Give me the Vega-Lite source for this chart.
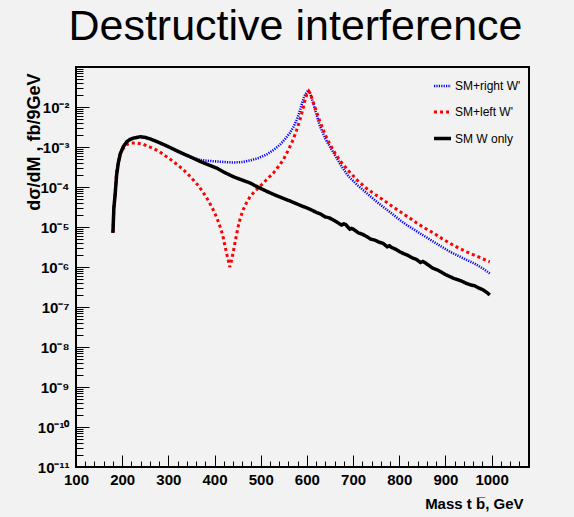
{
  "$schema": "https://vega.github.io/schema/vega-lite/v6.json",
  "width": 453,
  "height": 400,
  "autosize": "none",
  "padding": {"left": 76, "top": 67, "right": 45, "bottom": 50},
  "background": "#f2f2f2",
  "title": {"text": "Destructive interference", "font": "Liberation Sans", "fontSize": 43, "fontWeight": "normal", "color": "black", "anchor": "middle", "dx": -7, "baseline": "bottom", "offset": -25},
  "config": {
    "view": {"stroke": "black", "strokeWidth": 2},
    "axis": {"grid": false, "domain": false, "tickColor": "black", "labelColor": "black", "titleColor": "black", "labelFlush": false, "labelOverlap": false}
  },
  "data": {"values": [
    {"m":180,"s":"SM+right W'","v":7.2e-6},{"m":182,"s":"SM+right W'","v":3e-5},{"m":184.4,"s":"SM+right W'","v":5.8e-5},{"m":188,"s":"SM+right W'","v":2.0e-4},{"m":191.6,"s":"SM+right W'","v":4e-4},{"m":196,"s":"SM+right W'","v":6.8e-4},{"m":202.4,"s":"SM+right W'","v":1.02e-3},{"m":210,"s":"SM+right W'","v":1.35e-3},{"m":217,"s":"SM+right W'","v":1.55e-3},{"m":224,"s":"SM+right W'","v":1.68e-3},{"m":238.6,"s":"SM+right W'","v":1.8e-3},{"m":260,"s":"SM+right W'","v":1.62e-3},{"m":278,"s":"SM+right W'","v":1.35e-3},{"m":296,"s":"SM+right W'","v":1.1e-3},{"m":314,"s":"SM+right W'","v":8.3e-4},{"m":332,"s":"SM+right W'","v":6.6e-4},{"m":350,"s":"SM+right W'","v":5.5e-4},{"m":368,"s":"SM+right W'","v":4.8e-4},{"m":386,"s":"SM+right W'","v":4.5e-4},{"m":405,"s":"SM+right W'","v":4.35e-4},{"m":423,"s":"SM+right W'","v":4.2e-4},{"m":441,"s":"SM+right W'","v":4.1e-4},{"m":459,"s":"SM+right W'","v":4.2e-4},{"m":477,"s":"SM+right W'","v":4.6e-4},{"m":495,"s":"SM+right W'","v":5.3e-4},{"m":513,"s":"SM+right W'","v":6.5e-4},{"m":528,"s":"SM+right W'","v":8.5e-4},{"m":542,"s":"SM+right W'","v":1.15e-3},{"m":553,"s":"SM+right W'","v":1.6e-3},{"m":563,"s":"SM+right W'","v":2.24e-3},{"m":571,"s":"SM+right W'","v":3.2e-3},{"m":578,"s":"SM+right W'","v":4.8e-3},{"m":584,"s":"SM+right W'","v":7.5e-3},{"m":589,"s":"SM+right W'","v":1.2e-2},{"m":594,"s":"SM+right W'","v":1.8e-2},{"m":599,"s":"SM+right W'","v":2.3e-2},{"m":603,"s":"SM+right W'","v":2.6e-2},{"m":606,"s":"SM+right W'","v":2.4e-2},{"m":610,"s":"SM+right W'","v":1.75e-2},{"m":614,"s":"SM+right W'","v":1.2e-2},{"m":620,"s":"SM+right W'","v":7e-3},{"m":628,"s":"SM+right W'","v":3.4e-3},{"m":640,"s":"SM+right W'","v":1.6e-3},{"m":657,"s":"SM+right W'","v":7.4e-4},{"m":673,"s":"SM+right W'","v":3.6e-4},{"m":690,"s":"SM+right W'","v":1.85e-4},{"m":710,"s":"SM+right W'","v":1.1e-4},{"m":729,"s":"SM+right W'","v":7.1e-5},{"m":747,"s":"SM+right W'","v":4.7e-5},{"m":765,"s":"SM+right W'","v":3.2e-5},{"m":783,"s":"SM+right W'","v":2.2e-5},{"m":801,"s":"SM+right W'","v":1.5e-5},{"m":820,"s":"SM+right W'","v":1.05e-5},{"m":838,"s":"SM+right W'","v":7.8e-6},{"m":856,"s":"SM+right W'","v":5.8e-6},{"m":874,"s":"SM+right W'","v":4.3e-6},{"m":892,"s":"SM+right W'","v":3.2e-6},{"m":910,"s":"SM+right W'","v":2.4e-6},{"m":928,"s":"SM+right W'","v":1.9e-6},{"m":946,"s":"SM+right W'","v":1.5e-6},{"m":964,"s":"SM+right W'","v":1.2e-6},{"m":982,"s":"SM+right W'","v":9e-7},{"m":996,"s":"SM+right W'","v":6.9e-7},
    {"m":180,"s":"SM+left W'","v":7.2e-6},{"m":182,"s":"SM+left W'","v":3e-5},{"m":184.4,"s":"SM+left W'","v":6e-5},{"m":188,"s":"SM+left W'","v":2.5e-4},{"m":191.6,"s":"SM+left W'","v":4.2e-4},{"m":195,"s":"SM+left W'","v":6.5e-4},{"m":202,"s":"SM+left W'","v":9e-4},{"m":209.7,"s":"SM+left W'","v":1.15e-3},{"m":220,"s":"SM+left W'","v":1.25e-3},{"m":231,"s":"SM+left W'","v":1.26e-3},{"m":245,"s":"SM+left W'","v":1.18e-3},{"m":260,"s":"SM+left W'","v":1.0e-3},{"m":278,"s":"SM+left W'","v":8e-4},{"m":296,"s":"SM+left W'","v":5.75e-4},{"m":310,"s":"SM+left W'","v":4.4e-4},{"m":325,"s":"SM+left W'","v":3.2e-4},{"m":340,"s":"SM+left W'","v":2.25e-4},{"m":354,"s":"SM+left W'","v":1.5e-4},{"m":366,"s":"SM+left W'","v":1.05e-4},{"m":376,"s":"SM+left W'","v":7.1e-5},{"m":387,"s":"SM+left W'","v":4.5e-5},{"m":397,"s":"SM+left W'","v":2.7e-5},{"m":405,"s":"SM+left W'","v":1.7e-5},{"m":412,"s":"SM+left W'","v":1.02e-5},{"m":418,"s":"SM+left W'","v":6e-6},{"m":423,"s":"SM+left W'","v":3.2e-6},{"m":427,"s":"SM+left W'","v":2.0e-6},{"m":430,"s":"SM+left W'","v":1.45e-6},{"m":433,"s":"SM+left W'","v":1.0e-6},{"m":436,"s":"SM+left W'","v":1.35e-6},{"m":440,"s":"SM+left W'","v":2.2e-6},{"m":445,"s":"SM+left W'","v":4.5e-6},{"m":451,"s":"SM+left W'","v":1.0e-5},{"m":456,"s":"SM+left W'","v":1.7e-5},{"m":462,"s":"SM+left W'","v":2.7e-5},{"m":469,"s":"SM+left W'","v":4e-5},{"m":477,"s":"SM+left W'","v":5.75e-5},{"m":487,"s":"SM+left W'","v":7.8e-5},{"m":498,"s":"SM+left W'","v":1.02e-4},{"m":512,"s":"SM+left W'","v":1.5e-4},{"m":527,"s":"SM+left W'","v":2.2e-4},{"m":538,"s":"SM+left W'","v":3.2e-4},{"m":549,"s":"SM+left W'","v":4.8e-4},{"m":560,"s":"SM+left W'","v":8.5e-4},{"m":570,"s":"SM+left W'","v":1.5e-3},{"m":578,"s":"SM+left W'","v":2.7e-3},{"m":585,"s":"SM+left W'","v":4.8e-3},{"m":591,"s":"SM+left W'","v":8.5e-3},{"m":596,"s":"SM+left W'","v":1.5e-2},{"m":600,"s":"SM+left W'","v":2.1e-2},{"m":604,"s":"SM+left W'","v":2.5e-2},{"m":608,"s":"SM+left W'","v":2.1e-2},{"m":614,"s":"SM+left W'","v":1.3e-2},{"m":620,"s":"SM+left W'","v":8e-3},{"m":628,"s":"SM+left W'","v":4.4e-3},{"m":640,"s":"SM+left W'","v":2.0e-3},{"m":650,"s":"SM+left W'","v":1.15e-3},{"m":661,"s":"SM+left W'","v":7e-4},{"m":672,"s":"SM+left W'","v":4.5e-4},{"m":692,"s":"SM+left W'","v":2.4e-4},{"m":710,"s":"SM+left W'","v":1.45e-4},{"m":729,"s":"SM+left W'","v":9.3e-5},{"m":747,"s":"SM+left W'","v":6.6e-5},{"m":765,"s":"SM+left W'","v":4.8e-5},{"m":783,"s":"SM+left W'","v":3.4e-5},{"m":801,"s":"SM+left W'","v":2.45e-5},{"m":820,"s":"SM+left W'","v":1.75e-5},{"m":838,"s":"SM+left W'","v":1.26e-5},{"m":856,"s":"SM+left W'","v":9.3e-6},{"m":874,"s":"SM+left W'","v":7.1e-6},{"m":892,"s":"SM+left W'","v":5.2e-6},{"m":910,"s":"SM+left W'","v":3.9e-6},{"m":928,"s":"SM+left W'","v":3.0e-6},{"m":946,"s":"SM+left W'","v":2.4e-6},{"m":964,"s":"SM+left W'","v":1.95e-6},{"m":978,"s":"SM+left W'","v":1.66e-6},{"m":996,"s":"SM+left W'","v":1.35e-6},
    {"m":180,"s":"SM W only","v":7.2e-6},{"m":182,"s":"SM W only","v":3e-5},{"m":184.4,"s":"SM W only","v":5.8e-5},{"m":188,"s":"SM W only","v":2.0e-4},{"m":191.6,"s":"SM W only","v":4e-4},{"m":196,"s":"SM W only","v":6.8e-4},{"m":202.4,"s":"SM W only","v":1.02e-3},{"m":210,"s":"SM W only","v":1.35e-3},{"m":217,"s":"SM W only","v":1.55e-3},{"m":224,"s":"SM W only","v":1.66e-3},{"m":238.6,"s":"SM W only","v":1.8e-3},{"m":250,"s":"SM W only","v":1.74e-3},{"m":260,"s":"SM W only","v":1.6e-3},{"m":278,"s":"SM W only","v":1.32e-3},{"m":296,"s":"SM W only","v":1.07e-3},{"m":314,"s":"SM W only","v":8.5e-4},{"m":332,"s":"SM W only","v":6.8e-4},{"m":350,"s":"SM W only","v":5.5e-4},{"m":368,"s":"SM W only","v":4.4e-4},{"m":386,"s":"SM W only","v":3.6e-4},{"m":405,"s":"SM W only","v":2.95e-4},{"m":422,"s":"SM W only","v":2.3e-4},{"m":441,"s":"SM W only","v":1.8e-4},{"m":459,"s":"SM W only","v":1.5e-4},{"m":477,"s":"SM W only","v":1.26e-4},{"m":495,"s":"SM W only","v":9.8e-5},{"m":513,"s":"SM W only","v":7.8e-5},{"m":531,"s":"SM W only","v":6.3e-5},{"m":549,"s":"SM W only","v":5.2e-5},{"m":567,"s":"SM W only","v":4.3e-5},{"m":585,"s":"SM W only","v":3.5e-5},{"m":603,"s":"SM W only","v":2.9e-5},{"m":612,"s":"SM W only","v":2.6e-5},{"m":621,"s":"SM W only","v":2.3e-5},{"m":630,"s":"SM W only","v":2.1e-5},{"m":639,"s":"SM W only","v":1.8e-5},{"m":648,"s":"SM W only","v":1.7e-5},{"m":657,"s":"SM W only","v":1.5e-5},{"m":666,"s":"SM W only","v":1.3e-5},{"m":675,"s":"SM W only","v":1.12e-5},{"m":680,"s":"SM W only","v":1.2e-5},{"m":684,"s":"SM W only","v":1.15e-5},{"m":693,"s":"SM W only","v":8.8e-6},{"m":697,"s":"SM W only","v":9.2e-6},{"m":702,"s":"SM W only","v":8.6e-6},{"m":711,"s":"SM W only","v":7.2e-6},{"m":720,"s":"SM W only","v":6.6e-6},{"m":729,"s":"SM W only","v":5.8e-6},{"m":738,"s":"SM W only","v":5.0e-6},{"m":747,"s":"SM W only","v":4.7e-6},{"m":756,"s":"SM W only","v":4.2e-6},{"m":765,"s":"SM W only","v":3.9e-6},{"m":774,"s":"SM W only","v":3.2e-6},{"m":779,"s":"SM W only","v":3.4e-6},{"m":783,"s":"SM W only","v":3.1e-6},{"m":792,"s":"SM W only","v":2.8e-6},{"m":801,"s":"SM W only","v":2.4e-6},{"m":810,"s":"SM W only","v":2.15e-6},{"m":819,"s":"SM W only","v":1.95e-6},{"m":828,"s":"SM W only","v":1.7e-6},{"m":837,"s":"SM W only","v":1.55e-6},{"m":846,"s":"SM W only","v":1.3e-6},{"m":851,"s":"SM W only","v":1.38e-6},{"m":855,"s":"SM W only","v":1.3e-6},{"m":864,"s":"SM W only","v":1.1e-6},{"m":873,"s":"SM W only","v":9.3e-7},{"m":882,"s":"SM W only","v":8.5e-7},{"m":891,"s":"SM W only","v":7.5e-7},{"m":900,"s":"SM W only","v":6.5e-7},{"m":909,"s":"SM W only","v":5.8e-7},{"m":918,"s":"SM W only","v":5.2e-7},{"m":927,"s":"SM W only","v":4.8e-7},{"m":936,"s":"SM W only","v":4.4e-7},{"m":945,"s":"SM W only","v":3.9e-7},{"m":954,"s":"SM W only","v":3.6e-7},{"m":963,"s":"SM W only","v":3.4e-7},{"m":972,"s":"SM W only","v":3.0e-7},{"m":981,"s":"SM W only","v":2.7e-7},{"m":990,"s":"SM W only","v":2.3e-7},{"m":996,"s":"SM W only","v":2.0e-7}
  ]},
  "resolve": {"axis": {"x": "independent", "y": "independent"}},
  "layer": [
    {
      "mark": {"type": "line", "strokeOpacity": 0},
      "encoding": {
        "x": {"field": "m", "type": "quantitative", "scale": {"domain": [100, 1081], "nice": false, "zero": false},
          "axis": {"orient": "bottom", "title": null, "labels": false, "tickSize": -6, "tickWidth": 1,
            "values": [120,140,160,180,220,240,260,280,320,340,360,380,420,440,460,480,520,540,560,580,620,640,660,680,720,740,760,780,820,840,860,880,920,940,960,980,1020,1040,1060,1080]}},
        "y": {"field": "v", "type": "quantitative", "scale": {"type": "log", "domain": [1e-11, 0.1], "nice": false},
          "axis": {"orient": "left", "title": null, "labels": false, "tickSize": -7, "tickWidth": 1,
            "values": [2e-11,3e-11,4e-11,5e-11,6e-11,7e-11,8e-11,9e-11,2e-10,3e-10,4e-10,5e-10,6e-10,7e-10,8e-10,9e-10,2e-9,3e-9,4e-9,5e-9,6e-9,7e-9,8e-9,9e-9,2e-8,3e-8,4e-8,5e-8,6e-8,7e-8,8e-8,9e-8,2e-7,3e-7,4e-7,5e-7,6e-7,7e-7,8e-7,9e-7,2e-6,3e-6,4e-6,5e-6,6e-6,7e-6,8e-6,9e-6,2e-5,3e-5,4e-5,5e-5,6e-5,7e-5,8e-5,9e-5,2e-4,3e-4,4e-4,5e-4,6e-4,7e-4,8e-4,9e-4,2e-3,3e-3,4e-3,5e-3,6e-3,7e-3,8e-3,9e-3,2e-2,3e-2,4e-2,5e-2,6e-2,7e-2,8e-2,9e-2]}},
        "detail": {"field": "s", "type": "nominal"}
      }
    },
    {
      "mark": {"type": "line"},
      "encoding": {
        "x": {"field": "m", "type": "quantitative",
          "axis": {"orient": "bottom", "values": [100,200,300,400,500,600,700,800,900,1000], "format": "d", "tickSize": -12, "tickWidth": 1,
            "labelFont": "Liberation Sans", "labelFontWeight": "bold", "labelFontSize": 15, "labelPadding": 17,
            "title": "Mass t b\u0305, GeV", "titleFont": "Liberation Sans", "titleFontWeight": "bold", "titleFontSize": 15,
            "titleAlign": "right", "titleBaseline": "alphabetic", "titleX": 447, "titleY": 41}},
        "y": {"field": "v", "type": "quantitative",
          "axis": {"orient": "left", "values": [1e-11,1e-10,1e-9,1e-8,1e-7,1e-6,1e-5,1e-4,1e-3,1e-2], "tickSize": -13, "tickWidth": 1,
            "labelExpr": "'10' + ['','⁻¹','⁻²','⁻³','⁻⁴','⁻⁵','⁻⁶','⁻⁷','⁻⁸','⁻⁹','⁻¹⁰','⁻¹¹'][round(-log(datum.value)/LN10)]",
            "labelFont": "Liberation Sans", "labelFontWeight": "bold", "labelFontSize": 15, "labelPadding": 20, "labelBaseline": "middle",
            "title": "dσ/dM , fb/9GeV", "titleFont": "Liberation Sans", "titleFontWeight": "bold", "titleFontSize": 18, "titleAngle": -90,
            "titleAlign": "right", "titleBaseline": "middle", "titleX": -42, "titleY": 6}},
        "color": {"field": "s", "type": "nominal",
          "scale": {"domain": ["SM+right W'", "SM+left W'", "SM W only"], "range": ["#0000ff", "#ff0000", "#000000"]},
          "legend": {"title": null, "orient": "none", "legendX": 356, "legendY": 9, "symbolType": "stroke", "symbolSize": 289, "rowPadding": 10,
            "labelFont": "Liberation Sans", "labelFontSize": 12, "labelColor": "black", "labelOffset": 2}},
        "strokeDash": {"field": "s", "type": "nominal",
          "scale": {"domain": ["SM+right W'", "SM+left W'", "SM W only"], "range": [[1.2, 1.2], [3, 3], [1, 0]]}},
        "strokeWidth": {"field": "s", "type": "nominal",
          "scale": {"domain": ["SM+right W'", "SM+left W'", "SM W only"], "range": [2.5, 3.5, 3]}}
      }
    }
  ]
}
